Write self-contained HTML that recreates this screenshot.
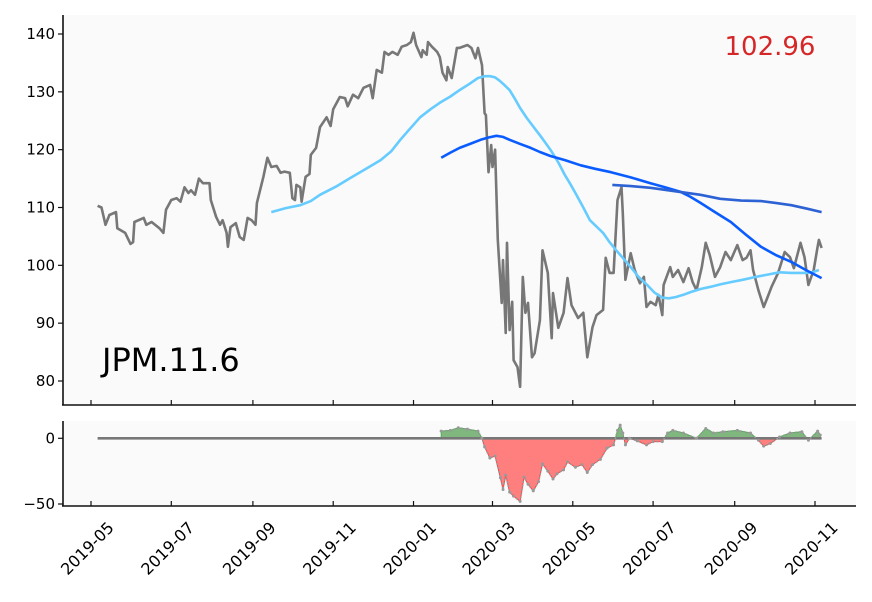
<!DOCTYPE html>
<html><head><meta charset="utf-8"><style>
body{margin:0;background:#fff;font-family:"Liberation Sans","DejaVu Sans",sans-serif;}
svg text{font-family:"DejaVu Sans","Liberation Sans",sans-serif;}
</style></head><body>
<svg id="chart" width="872" height="597" viewBox="0 0 872 597" xmlns="http://www.w3.org/2000/svg">
<rect x="63" y="15" width="793" height="390" fill="#fafafa"/>
<rect x="63" y="421" width="793" height="85" fill="#fafafa"/>
<defs>
<clipPath id="clipAbove"><rect x="63" y="421" width="793" height="17.3"/></clipPath>
<clipPath id="clipBelow"><rect x="63" y="438.3" width="793" height="70"/></clipPath>
</defs>
<g id="topPanel"></g>
<g id="botPanel"></g>
<g id="axesGroup"></g>
<text x="770" y="55" font-size="26" fill="#d62728" text-anchor="middle">102.96</text>
<text x="102" y="371" font-size="32" fill="#000">JPM.11.6</text>
</svg>
<script>
const priceDays=[5,8,11,14,19,20,26,30,32,33,40,42,46,52,55,57,61,65,68,71,74,76,79,82,85,90,91,95,98,100,103,104,106,110,113,116,117,119,122,125,126,131,134,137,141,144,147,151,153,155,156,159,160,163,166,167,171,174,179,182,184,189,193,195,199,203,207,212,214,217,221,223,226,229,233,236,240,243,245,247,251,252,255,256,259,263,265,267,270,271,274,278,280,286,289,292,294,297,299,300,302,304,305,307,309,312,313,315,316,318,320,321,324,326,328,330,332,335,337,341,343,347,350,351,355,359,362,365,370,374,377,381,384,389,391,394,397,400,403,404,406,410,413,417,420,422,425,429,431,434,435,440,442,446,450,454,457,460,464,467,470,474,478,482,486,491,495,498,501,503,507,511,514,517,522,527,531,534,539,542,545,549,552,553,555];
const priceVals=[110.3,110,107,108.7,109.2,106.4,105.6,103.7,104,107.5,108.2,107,107.5,106.4,105.6,109.6,111.3,111.6,111,113.5,112.5,113,112.2,115,114.2,114.2,111.3,108.4,107,107.8,105.6,103.2,106.6,107.3,104.9,104.4,105.6,108.2,107.8,107,110.8,115.3,118.6,117,117.2,116,116.2,116,111.6,111.3,113.9,113.5,111,115.3,115.8,119.1,120.3,123.9,125.6,124.1,127,129.1,128.9,127.5,129.5,128.9,130.7,131.2,128.9,133.8,133.3,136.9,136.4,136.9,136.4,137.8,138.1,138.6,140.2,138.1,136,137.2,136.4,138.6,137.8,136.9,136,133.3,132,134.3,132.4,137.6,137.6,138.1,137.6,135.8,137.6,134.6,126.3,126,116.1,120.8,117,120,104.4,93.5,100.9,88.3,103.9,88.8,93.7,83.6,82.4,79,98,91.8,93.5,84.1,84.8,90.5,102.6,98.7,87.4,95.2,89.2,91.8,97.8,93.1,90.9,91.8,84.1,89.3,91.4,92.3,101.3,98.7,98.7,111.3,113.5,109,97.5,102.1,99.2,96.9,98,92.8,93.7,93.1,94.9,91.4,96.6,99.7,98,99.2,97.1,99.5,97.1,95.7,99.7,103.9,101.8,98,99.7,102.3,100.9,103.5,100.9,101.3,102.6,99.2,95.7,92.8,94.5,96.3,98.7,102.3,101.4,99.5,103.9,101.4,96.6,99.2,103.2,104.4,103];
const maShortDays=[137,148,159,167,174,186,197,209,220,228,235,243,250,258,265,273,280,287,294,299,303,307,310,314,318,322,326,331,337,343,349,355,360,364,368,374,379,384,389,394,399,404,410,416,423,428,434,439,444,450,456,463,471,478,486,495,505,514,523,532,542,548,553];
const maShortVals=[109.2,109.9,110.4,111.1,112.2,113.6,115.1,116.7,118.2,119.7,121.7,123.8,125.6,127,128.1,129.2,130.3,131.3,132.4,132.7,132.7,132.5,132,131.2,130.3,128.8,127.2,125.5,123.7,121.9,120,117.8,115.6,114.1,112.5,110,107.8,106.7,105.6,104,102.6,101.3,99.7,98,96.5,95.3,94.4,94.3,94.5,94.9,95.4,95.9,96.3,96.7,97.1,97.5,98,98.4,98.8,98.7,98.7,98.8,99.2];
const maMidDays=[266,273,280,288,296,302,308,313,318,326,334,341,349,360,372,383,395,410,425,436,448,455,463,474,486,497,509,520,532,543,555];
const maMidVals=[118.6,119.5,120.3,121,121.7,122.1,122.4,122.2,121.7,121,120.3,119.6,118.9,118.2,117.3,116.7,116.1,115.2,114.2,113.5,112.7,111.9,110.8,109.2,107.5,105.4,103.2,101.8,100.6,99.2,97.8];
const maLongDays=[396,410,425,444,463,478,494,509,520,532,544,555];
const maLongVals=[113.9,113.7,113.4,112.8,112.2,111.5,111.2,111.1,110.8,110.4,109.8,109.2];
const diffDays=[266,273,279,286,294,297,299,303,307,311,313,315,318,321,326,329,332,336,340,343,347,351,354,359,362,368,373,377,381,387,392,397,400,402,404,406,409,415,422,427,434,438,442,450,460,467,473,480,491,501,507,511,516,523,531,540,545,552,554];
const diffVals=[5.5,6,8,7,5.5,0,-6.5,-15,-13.5,-30,-39,-28,-41,-44,-48,-29.5,-35,-40,-33,-19.5,-25,-31,-27,-24,-18,-22,-20,-26,-20,-16,-7.5,-5,6,10,4,-5,0,-2,-5,-2.5,-2.5,4,6,4,0,7.5,4,5,6,4,-1.5,-6,-4,1,4,5,-1.5,5.5,2.5];
const zeroLineDays=[5,555];
const yTicksTop=[80,90,100,110,120,130,140];
const yTicksBot=[0,-50];
const xTickLabels=["2019-05","2019-07","2019-09","2019-11","2020-01","2020-03","2020-05","2020-07","2020-09","2020-11"];
const xTickDays=[0,61,123,184,245,305,366,427,489,550];

const X=d=>91+d*(815-91)/550;
const Y=v=>34+(140-v)*(381-34)/60;
const YB=v=>438.3-v*(504-438.3)/50;
const NS="http://www.w3.org/2000/svg";
function mk(tag,attrs,parent){const e=document.createElementNS(NS,tag);for(const k in attrs)e.setAttribute(k,attrs[k]);parent.appendChild(e);return e;}
const topG=document.getElementById('topPanel'),botG=document.getElementById('botPanel'),axG=document.getElementById('axesGroup');
function ptsOf(days,vals,yf){const n=Math.min(days.length,vals.length);const a=[];for(let i=0;i<n;i++)a.push(X(days[i]).toFixed(1)+','+yf(vals[i]).toFixed(1));return a;}
function line(days,vals,yf,color,w,parent,name){
  const p=mk('polyline',{points:ptsOf(days,vals,yf).join(' '),fill:'none',stroke:color,'stroke-width':w,'stroke-linejoin':'round'},parent);
  
  
  return p;
}
line(priceDays,priceVals,Y,'#777777',2.6,topG,'price-line');
line(maShortDays,maShortVals,Y,'#66ccff',2.6,topG,'short-ma-line');
line(maMidDays,maMidVals,Y,'#0a5cff',2.6,topG,'mid-ma-line');
line(maLongDays,maLongVals,Y,'#2d62d4',2.6,topG,'long-ma-line');
const n=Math.min(diffDays.length,diffVals.length);
const poly=X(diffDays[0]).toFixed(1)+','+YB(0)+' '+ptsOf(diffDays,diffVals,YB).join(' ')+' '+X(diffDays[n-1]).toFixed(1)+','+YB(0);
const fa=mk('polygon',{points:poly,fill:'#7fb77f',stroke:'#4caf50','stroke-width':1,'clip-path':'url(#clipAbove)'},botG);


const fb=mk('polygon',{points:poly,fill:'#ff7f7f',stroke:'#ff4040','stroke-width':1,'clip-path':'url(#clipBelow)'},botG);


line(zeroLineDays,[0,0],YB,'#777777',2.6,botG,'zero-line');
const dl=line(diffDays,diffVals,YB,'#999999',1.5,botG,'diff-line');
dl.setAttribute('stroke-dasharray','2 2');
for(let i=0;i<n;i++){
  const c=mk('circle',{cx:X(diffDays[i]),cy:YB(diffVals[i]),r:1.5,fill:'#999'},botG);
  
  
}
function seg(x1,y1,x2,y2,w,name){const l=mk('line',{x1,y1,x2,y2,stroke:'#111','stroke-width':w},axG);
  
  }
seg(63,15,63,405,1.6,'top-y-axis');seg(62,405,856,405,1.6,'top-x-axis');
seg(63,421,63,506,1.6,'bottom-y-axis');seg(62,506,856,506,1.6,'bottom-x-axis');
yTicksTop.forEach(v=>{
  seg(58,Y(v),63,Y(v),1.2,'y-tick');
  const t=mk('text',{x:55,y:Y(v)+5,'font-size':15,'text-anchor':'end',fill:'#000'},axG);t.textContent=v;
  
  
});
yTicksBot.forEach(v=>{
  seg(58,YB(v),63,YB(v),1.2,'y-tick');
  const t=mk('text',{x:55,y:YB(v)+5,'font-size':15,'text-anchor':'end',fill:'#000'},axG);t.textContent=v<0?'\u2212'+(-v):v;
  
  
});
xTickDays.forEach((d,i)=>{
  const x=X(d);
  seg(x,405,x,400,1.2,'x-tick');seg(x,506,x,501,1.2,'x-tick');
  const t=mk('text',{x:x-4,y:554,'font-size':16,'text-anchor':'middle',fill:'#000',transform:`rotate(-45 ${x-4} 548)`},axG);
  t.textContent=xTickLabels[i];
  
  
});
</script>
</body></html>
